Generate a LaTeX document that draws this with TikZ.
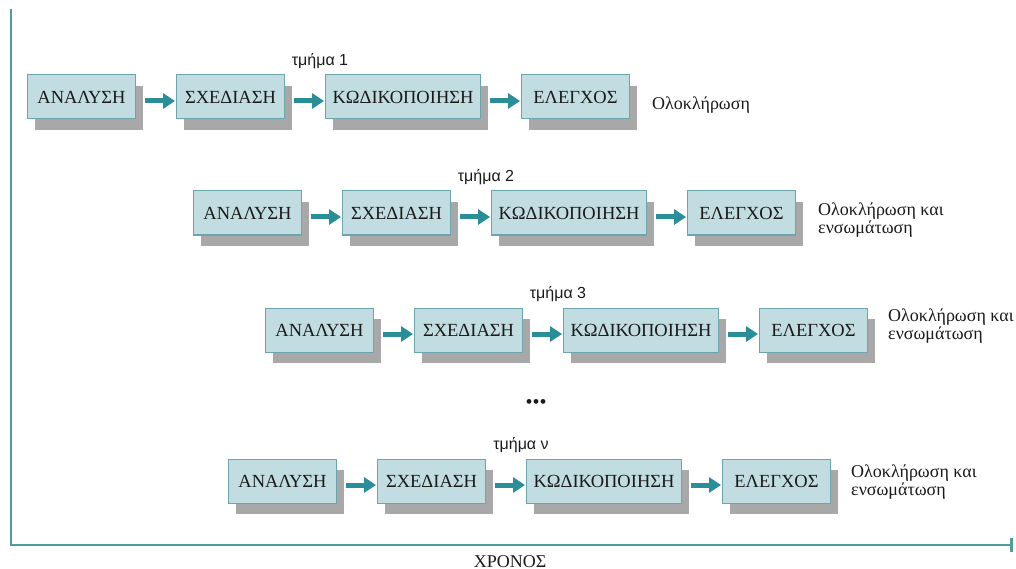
\documentclass[tikz,border=0pt]{standalone}
\usepackage{fontspec}
\setmainfont{Liberation Serif}
\newfontfamily\partfont{Liberation Sans}
\usetikzlibrary{arrows.meta,positioning,shadows}
\definecolor{boxfill}{HTML}{C2DDE1}
\definecolor{boxline}{HTML}{6BA6AD}
\definecolor{shade}{HTML}{A8A8A8}
\definecolor{flowteal}{HTML}{2A8E98}
\definecolor{axisteal}{HTML}{4E9C9C}
\definecolor{ink}{HTML}{1A1A1A}
\tikzset{
  stage/.style={draw=boxline, line width=1pt, fill=boxfill, text=ink, minimum height=44pt, minimum width=108pt, inner sep=2pt, font=\fontsize{18.5}{20}\selectfont, drop shadow={shadow xshift=7pt, shadow yshift=-11pt, fill=shade, opacity=1}},
  wide/.style={minimum width=155pt},
  flow/.style={-{Triangle[length=12pt,width=15pt]}, line width=5pt, draw=flowteal, shorten >=1pt},
  part/.style={font=\partfont\fontsize{16}{18}\selectfont, text=ink, inner sep=0pt},
  note/.style={font=\fontsize{18}{14}\selectfont, text=ink, align=left, anchor=west, inner sep=0pt},
  axisline/.style={line width=2.5pt, draw=axisteal},
}

\begin{document}
\begin{tikzpicture}[x=1pt, y=-1pt, node distance=40pt]
  \useasboundingbox (0,0) rectangle (1016,569);
  % axes
  \coordinate (top) at (11,9);
  \coordinate (tend) at (1013,545);
  \draw[axisline,-{Rectangle[length=3pt,width=14pt]}] (top) |- (tend);
  \node[font=\fontsize{18}{20}\selectfont, text=ink, inner sep=0pt, anchor=base] (time) at (510,567) {ΧΡΟΝΟΣ};
  % part 1
  \node[stage, anchor=west] (an1) at (27,97) {ΑΝΑΛΥΣΗ};
  \node[stage, right=of an1] (sx1) {ΣΧΕΔΙΑΣΗ};
  \node[stage, wide, right=of sx1] (kd1) {ΚΩΔΙΚΟΠΟΙΗΣΗ};
  \node[stage, right=of kd1] (el1) {ΕΛΕΓΧΟΣ};
  \node[part, above=5pt of kd1.north west, xshift=-5pt] (tm1) {τμήμα 1};
  \node[note, right=22pt of el1, yshift=-8pt] (ol1) {Ολοκλήρωση};
  % part 2
  \node[stage, anchor=west] (an2) at (193,213) {ΑΝΑΛΥΣΗ};
  \node[stage, right=of an2] (sx2) {ΣΧΕΔΙΑΣΗ};
  \node[stage, wide, right=of sx2] (kd2) {ΚΩΔΙΚΟΠΟΙΗΣΗ};
  \node[stage, right=of kd2] (el2) {ΕΛΕΓΧΟΣ};
  \node[part, above=5pt of kd2.north west, xshift=-5pt] (tm2) {τμήμα 2};
  \node[note, right=22pt of el2, yshift=-7pt] (ol2) {Ολοκλήρωση και\\ενσωμάτωση};
  % part 3
  \node[stage, anchor=west] (an3) at (265,330) {ΑΝΑΛΥΣΗ};
  \node[stage, right=of an3] (sx3) {ΣΧΕΔΙΑΣΗ};
  \node[stage, wide, right=of sx3] (kd3) {ΚΩΔΙΚΟΠΟΙΗΣΗ};
  \node[stage, right=of kd3] (el3) {ΕΛΕΓΧΟΣ};
  \node[part, above=5pt of kd3.north west, xshift=-5pt] (tm3) {τμήμα 3};
  \node[note, right=20pt of el3, yshift=4pt] (ol3) {Ολοκλήρωση και\\ενσωμάτωση};
  % dots
  \node[font=\fontsize{20}{20}\selectfont, text=ink] (dots) at (536,404) {\textbullet\textbullet\textbullet};
  % part n
  \node[stage, anchor=west] (an4) at (228,481) {ΑΝΑΛΥΣΗ};
  \node[stage, right=of an4] (sx4) {ΣΧΕΔΙΑΣΗ};
  \node[stage, wide, right=of sx4] (kd4) {ΚΩΔΙΚΟΠΟΙΗΣΗ};
  \node[stage, right=of kd4] (el4) {ΕΛΕΓΧΟΣ};
  \node[part, above=5pt of kd4.north west, xshift=-5pt] (tm4) {τμήμα ν};
  \node[note, right=20pt of el4, yshift=-1pt] (ol4) {Ολοκλήρωση και\\ενσωμάτωση};
  % arrows
  \foreach \r in {1,2,3,4}{
    \draw[flow] ([xshift=9pt,yshift=-4pt]an\r.east) -- ([yshift=-4pt]sx\r.west);
    \draw[flow] ([xshift=9pt,yshift=-4pt]sx\r.east) -- ([yshift=-4pt]kd\r.west);
    \draw[flow] ([xshift=9pt,yshift=-4pt]kd\r.east) -- ([yshift=-4pt]el\r.west);
  }
\end{tikzpicture}
\end{document}
